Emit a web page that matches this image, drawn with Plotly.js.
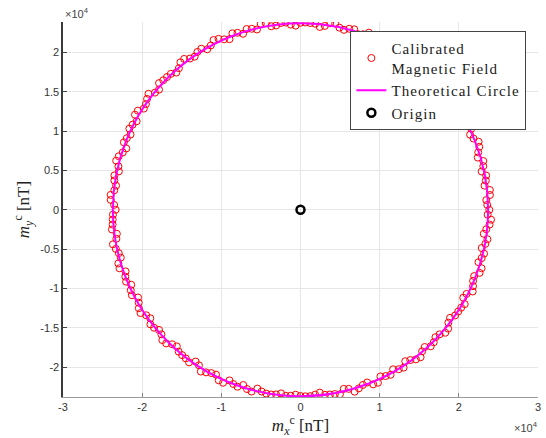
<!DOCTYPE html>
<html>
<head>
<meta charset="utf-8">
<script src="https://cdn.plot.ly/plotly-3.0.1.min.js"></script>
<style>
  html, body { margin: 0; padding: 0; background: #fff; }
  #chart { width: 546px; height: 438px; }
  /* slightly looser tracking for the legend labels */
  .legendtext { letter-spacing: 1.1px; }
</style>
</head>
<body>
<div id="chart"></div>
<script>
// Calibrated magnetometer readings, horizontal plane components [nT]
const calX = [
  23850, 23470, 23920, 23410, 22890, 23090, 22450, 22500, 21420, 21210,
  20480, 20130, 18890, 18460, 17800, 16650, 15960, 14790, 14140, 12910,
  11700, 10850, 9600, 8640, 7250, 6160, 4920, 3750, 2440, 1240,
  0, -1230, -2490, -3690, -5020, -6160, -7260, -8600, -9640, -10990,
  -11780, -13020, -13960, -15170, -15690, -16860, -17870, -18380, -19380, -19790,
  -20910, -21210, -21470, -22310, -22450, -23280, -22940, -23510, -23520, -23970,
  -23350, -23720, -23820, -23260, -23330, -22700, -22870, -22130, -21380, -21300,
  -20440, -20210, -18970, -18500, -17570, -16970, -15620, -14950, -14080, -12830,
  -11930, -10670, -9780, -8490, -7230, -6190, -4910, -3710, -2450, -1240,
  0, 1240, 2440, 3710, 4980, 6090, 7370, 8420, 9780, 10760,
  11700, 13020, 13870, 15170, 15690, 16830, 17570, 18650, 18890, 19920,
  20740, 20980, 21790, 21940, 22870, 22890, 22890, 23610, 23470, 24070,
  23590, 23930, 23250, 23450, 23090, 22390, 22580, 21850, 21570, 20650,
  20510, 19410, 18800, 18100, 16970, 16590, 15330, 14610, 13280, 12460,
  11330, 10050, 9170, 7890, 6790, 5490, 4380, 3070, 1860, 620,
  -610, -1870, -3080, -4390, -5500, -6800, -7960, -8970, -10350, -11330,
  -12540, -13370, -14700, -15360, -16380, -17340, -17870, -19200, -19530, -20550,
  -20700, -21620, -21940, -22010, -22960, -23000, -23500, -23300, -23980, -23540,
  -23690, -23730, -23200, -23700, -22950, -23010, -22100, -22030, -21440, -20520,
  -20420, -19490, -18960, -17870, -17450, -16210, -15390, -14490, -13250, -12590,
  -11260, -10330, -8970, -7960, -6750, -5450, -4330, -3090, -1860, -620,
  620, 1850, 3090, 4340, 5460, 6840, 7880, 9180, 10100, 11380,
  12410, 13230, 14580, 15360, 16450, 17050, 18290, 18680, 19530, 20290,
  20560, 21750, 21800, 22620, 22480, 23190, 23350, 23150, 23880, 23640
];
const calY = [
  0, 1230, 2510, 3710, 4860, 6190, 7290, 8640, 9540, 10810,
  11830, 13070, 13730, 14950, 16020, 16650, 17720, 18260, 19460, 19880,
  20260, 21300, 21560, 22500, 22300, 22990, 23130, 23700, 23220, 23720,
  23750, 23520, 23720, 23310, 23620, 22990, 22350, 22410, 21650, 21560,
  20390, 20050, 19210, 18730, 17430, 16860, 16090, 14880, 14080, 12850,
  12080, 10810, 9560, 8570, 7290, 6240, 4880, 3720, 2470, 1260,
  0, -1240, -2500, -3680, -4960, -6080, -7430, -8490, -9520, -10850,
  -11800, -13120, -13780, -14980, -15820, -16970, -17350, -18460, -19380, -19750,
  -20650, -20940, -21970, -22130, -22260, -23090, -23080, -23460, -23320, -23620,
  -23650, -23670, -23220, -23460, -23430, -22750, -22680, -21940, -21970, -21120,
  -20260, -20050, -19090, -18730, -17430, -16830, -15820, -15100, -13730, -12930,
  -11980, -10690, -9700, -8420, -7430, -6130, -4860, -3740, -2470, -1260,
  620, 1880, 3060, 4350, 5540, 6630, 7990, 9050, 10290, 11210,
  12570, 13340, 14430, 15460, 16110, 17480, 17950, 19040, 19330, 20340,
  20870, 21080, 22130, 22290, 22920, 22850, 23650, 23350, 23630, 23790,
  23390, 23780, 23400, 23700, 22900, 22960, 22480, 21670, 21710, 20870,
  20460, 19450, 19160, 17980, 17260, 16450, 15260, 14730, 13420, 12590,
  11240, 10310, 9090, 7790, 6800, 5520, 4360, 3070, 1890, 620,
  -620, -1870, -3050, -4390, -5510, -6820, -7830, -9130, -10220, -11140,
  -12510, -13400, -14550, -15260, -16550, -17080, -18020, -18880, -19280, -20550,
  -20740, -21660, -21670, -22480, -22770, -22710, -23350, -23450, -23630, -23490,
  -23690, -23480, -23500, -23400, -22750, -23110, -22250, -22170, -21170, -20960,
  -20250, -19240, -19000, -17980, -17340, -16180, -15620, -14340, -13420, -12440,
  -11170, -10380, -9030, -8010, -6660, -5570, -4330, -3050, -1880, -620
];

// Radius of the theoretical field circle [nT]
const circleRadius = 23700;

// Origin of the horizontal plane
const originX = [0];
const originY = [0];

// Axis ticks (values in nT, labels in units of 10^4 nT)
const xTickVals = [-30000, -20000, -10000, 0, 10000, 20000, 30000];
const xTickText = ['-3', '-2', '-1', '0', '1', '2', '3'];
const yTickVals = [-20000, -15000, -10000, -5000, 0, 5000, 10000, 15000, 20000];
const yTickText = ['-2', '-1.5', '-1', '-0.5', '0', '0.5', '1', '1.5', '2'];

const serif = 'Liberation Serif, Times New Roman, serif';
const sans = 'Liberation Sans, Arial, Helvetica, sans-serif';

const traces = [
  {
    x: calX, y: calY,
    type: 'scatter', mode: 'markers',
    name: 'Calibrated<br>Magnetic Field',
    marker: { symbol: 'circle-open', size: 7, color: '#ff0000', line: { width: 1, color: '#ff0000' } },
    cliponaxis: true
  },
  {
    // legend entry for the circle drawn as a layout shape
    x: [null], y: [null],
    type: 'scatter', mode: 'lines',
    name: 'Theoretical Circle',
    line: { color: '#ff00ff', width: 2 }
  },
  {
    x: originX, y: originY,
    type: 'scatter', mode: 'markers',
    name: 'Origin',
    marker: { symbol: 'circle-open', size: 8, color: '#000', line: { width: 2.5, color: '#000' } }
  }
];

const layout = {
  width: 546, height: 438,
  margin: { l: 63, r: 8, t: 22, b: 41 },
  paper_bgcolor: '#fff',
  plot_bgcolor: '#fff',
  showlegend: true,
  legend: {
    x: 0.605, y: 0.976, xanchor: 'left', yanchor: 'top',
    bgcolor: '#fff', bordercolor: '#444', borderwidth: 1,
    font: { family: serif, size: 15, color: '#1a1a1a' },
    tracegroupgap: 0, itemsizing: 'trace', valign: 'middle'
  },
  xaxis: {
    range: [-30000, 30000],
    tickmode: 'array', tickvals: xTickVals, ticktext: xTickText,
    ticks: 'inside', ticklen: 4, tickcolor: '#888', tickwidth: 1,
    showline: true, linecolor: '#9a9a9a', linewidth: 1, mirror: false,
    showgrid: true, gridcolor: '#e6e6e6', gridwidth: 1,
    zeroline: false,
    tickfont: { family: sans, size: 11, color: '#333' },
    title: {
      text: '<i>m</i><sub><i>x</i></sub><sup>c</sup> [nT]',
      font: { family: serif, size: 17, color: '#222' },
      standoff: 2
    }
  },
  yaxis: {
    range: [-23780, 23850],
    tickmode: 'array', tickvals: yTickVals, ticktext: yTickText,
    ticks: 'inside', ticklen: 4, tickcolor: '#444', tickwidth: 1,
    showline: true, linecolor: '#3a3a3a', linewidth: 1.6, mirror: false,
    showgrid: true, gridcolor: '#e6e6e6', gridwidth: 1,
    zeroline: false,
    tickfont: { family: sans, size: 11, color: '#333' },
    title: {
      text: '<i>m</i><sub><i>y</i></sub><sup>c</sup> [nT]',
      font: { family: serif, size: 17, color: '#222' },
      standoff: 6
    }
  },
  shapes: [{
    type: 'circle', xref: 'x', yref: 'y', layer: 'above',
    x0: -circleRadius, x1: circleRadius, y0: -circleRadius, y1: circleRadius,
    line: { color: '#ff00ff', width: 2 }
  }],
  annotations: [
    {
      xref: 'paper', yref: 'paper', x: 0, y: 1.024, xanchor: 'left', yanchor: 'middle',
      text: '×10<sup>4</sup>', showarrow: false,
      font: { family: sans, size: 11, color: '#444' }
    },
    {
      xref: 'paper', yref: 'paper', x: 1.005, y: -0.08, xanchor: 'right', yanchor: 'middle',
      text: '×10<sup>4</sup>', showarrow: false,
      font: { family: sans, size: 11, color: '#444' }
    }
  ]
};

Plotly.newPlot('chart', traces, layout, { displayModeBar: false, staticPlot: true });
</script>
</body>
</html>
